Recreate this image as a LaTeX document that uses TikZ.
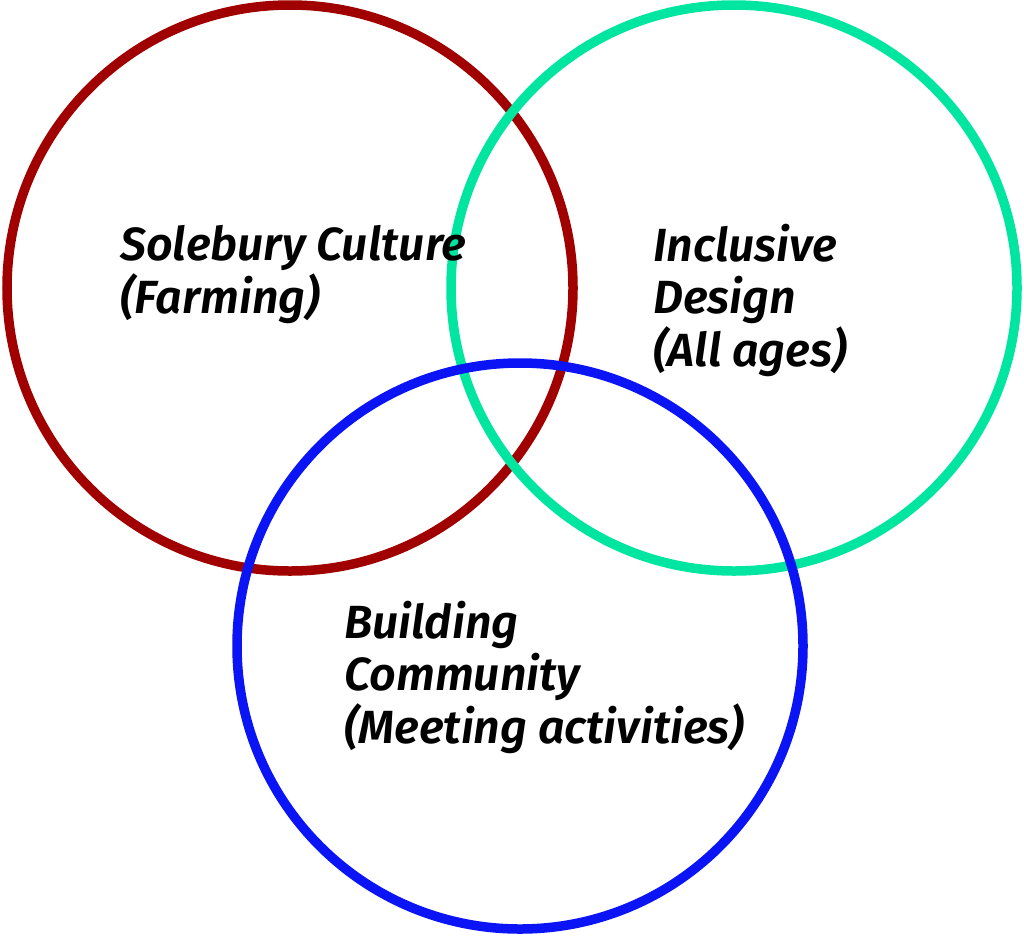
\documentclass[tikz,border=0pt]{standalone}
\usepackage{fontspec}
\newfontfamily\vennfont{Fira Sans SemiBold Italic}
\usepackage{tikz}
\usetikzlibrary{positioning}
\definecolor{Harvest}{HTML}{A00000}
\definecolor{Mint}{HTML}{00E5A0}
\definecolor{Cobalt}{HTML}{0A14F5}
\tikzset{
    % one ring per theme
    ring/.style={
        circle,
        draw=#1,
        line width=9.5pt,
        minimum size=566pt,
        inner sep=0pt
    },
    theme/.style={
        anchor=base west,
        align=left,
        inner sep=0pt,
        font=\vennfont\fontsize{46.5}{52.5}\selectfont
    }
}
\begin{document}
\begin{tikzpicture}[x=1pt,y=-1pt]
    \useasboundingbox (0,0) rectangle (1024,937);

    \node[ring=Harvest] (culture) at (290,288) {};
    \node[ring=Mint] (design) at (734,288) {};
    \node[ring=Cobalt] (community) at (520,646) {};

    % Labels (anchored at the last line)
    \node[theme] (culturetext) at (120,313) {Solebury Culture\\(Farming)};
    \node[theme] (designtext) at (653,366) {Inclusive\\Design\\(All ages)};
    \node[theme] (communitytext) at (344,743) {Building\\Community\\(Meeting activities)};
\end{tikzpicture}
\end{document}
